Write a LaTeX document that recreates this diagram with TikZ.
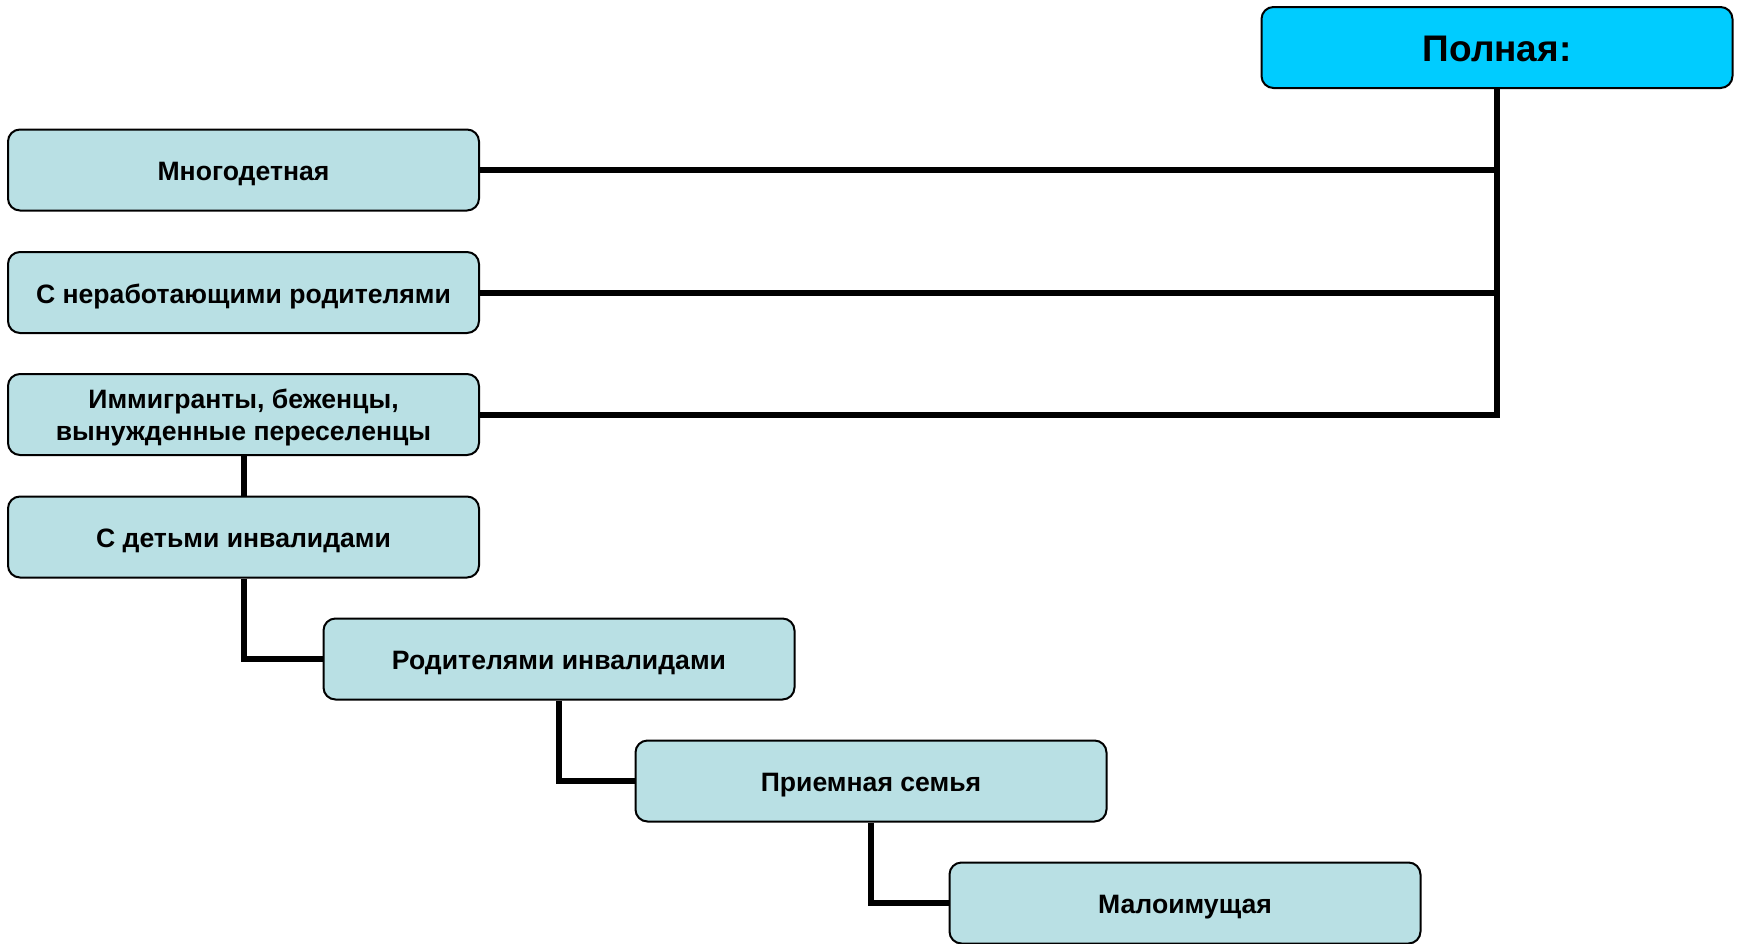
\documentclass[tikz,border=0pt]{standalone}
\usepackage{fontspec}
\setmainfont{Liberation Sans}
\begin{document}
\begin{tikzpicture}[x=1pt,y=-1pt,
  box/.style={draw=black, line width=2pt, rounded corners=12pt, fill=boxfill,
    minimum width=471pt, minimum height=81pt, inner sep=0pt, align=center,
    text height=21.4pt, text depth=0pt,
    font=\fontsize{26.6}{32}\selectfont\bfseries},
  topbox/.style={box, fill=topfill, text height=28.4pt,
    font=\fontsize{37}{44}\selectfont\bfseries},
  link/.style={draw=black, line width=6pt, line join=miter}]
\definecolor{boxfill}{RGB}{185,224,228}
\definecolor{topfill}{RGB}{0,204,255}
\useasboundingbox (0,0) rectangle (1740,943);
\node[topbox] (top) at (1497,47.5) {Полная:};
\node[box] (b1) at (243.5,170) {Многодетная};
\node[box] (b2) at (243.5,292.5) {С неработающими родителями};
\node[box, text height=51pt] (b3) at (243.5,414.5) {Иммигранты, беженцы,\\вынужденные переселенцы};
\node[box] (b4) at (243.5,537) {С детьми инвалидами};
\node[box] (b5) at (559,659) {Родителями инвалидами};
\node[box] (b6) at (871,781) {Приемная семья};
\node[box] (b7) at (1185,903) {Малоимущая};
\draw[link] (top.south) |- (b3.east);
\draw[link] (b1.east) -- (b1.east -| top.south);
\draw[link] (b2.east) -- (b2.east -| top.south);
\draw[link] (b3.south) -- (b4.north);
\draw[link] (b4.south) |- (b5.west);
\draw[link] (b5.south) |- (b6.west);
\draw[link] (b6.south) |- (b7.west);
\end{tikzpicture}
\end{document}
